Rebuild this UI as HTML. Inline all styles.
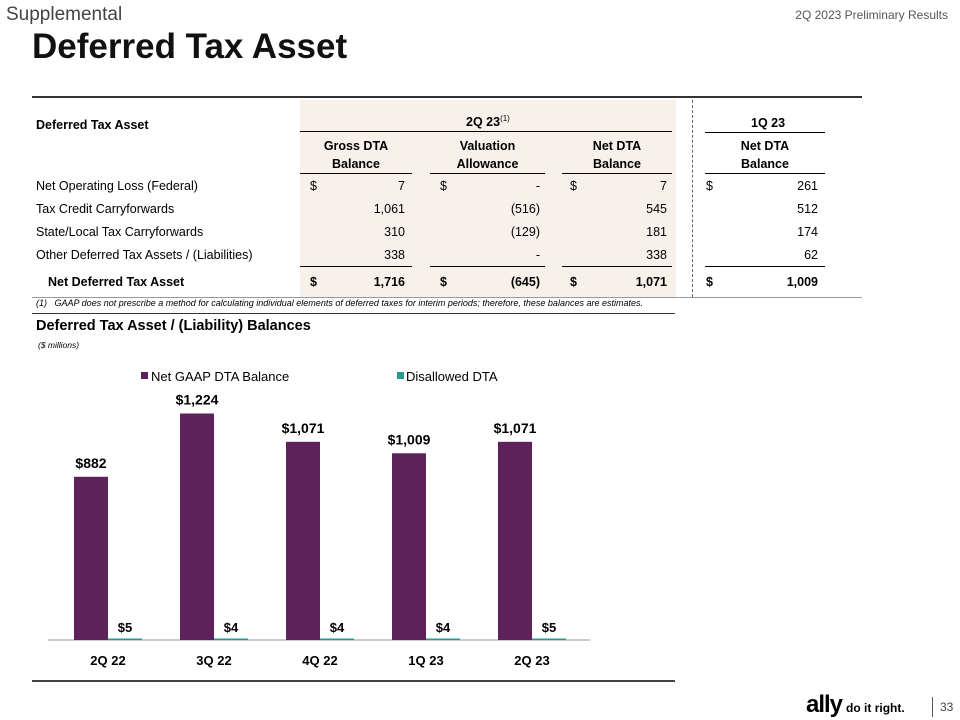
<!DOCTYPE html>
<html><head><meta charset="utf-8"><style>
body{margin:0;width:960px;height:720px;background:#fff;position:relative;overflow:hidden;font-family:"Liberation Sans",sans-serif;color:#000}
.a{position:absolute;white-space:nowrap}
.b{font-weight:bold}
.r{text-align:right}
.c{text-align:center}
.ln{position:absolute;height:1px;background:#000}
</style></head><body>
<div class="a" style="left:6px;top:4px;font-size:19px;color:#444">Supplemental</div>
<div class="a" style="right:12px;top:8px;font-size:12px;color:#555">2Q 2023 Preliminary Results</div>
<div class="a b" style="left:32px;top:27px;font-size:35px;color:#111">Deferred Tax Asset</div>
<div class="ln" style="left:32px;top:96px;width:830px;height:2px;background:#333"></div>
<div class="a" style="left:300px;top:100px;width:376px;height:197px;background:#f8f1ea"></div>
<div class="a" style="left:692px;top:100px;height:197px;border-left:1px dashed #666"></div>
<div id="tbl"></div>
<div class="ln" style="left:32px;top:297px;width:830px;background:#999"></div>
<div class="a" style="left:36px;top:298px;font-size:9px;font-style:italic">(1)&nbsp;&nbsp;&nbsp;GAAP does not prescribe a method for calculating individual elements of deferred taxes for interim periods; therefore, these balances are estimates.</div>
<div class="ln" style="left:32px;top:313px;width:643px;background:#333"></div>
<div class="a b" style="left:36px;top:318px;font-size:14.5px">Deferred Tax Asset / (Liability) Balances</div>
<div class="a" style="left:38px;top:340px;font-size:8.5px;font-style:italic">($ millions)</div>
<div class="ln" style="left:32px;top:680px;width:643px;height:2px;background:#444"></div>
<div class="a b" style="left:806px;top:691px;font-size:24px;letter-spacing:-1px">ally<span style="font-size:12px;letter-spacing:0;margin-left:4px">do it right.</span></div>
<div class="a" style="left:932px;top:697px;width:1px;height:20px;background:#555"></div>
<div class="a" style="left:940px;top:700px;font-size:12px;color:#444">33</div>
<svg id="chart" width="960" height="720" style="position:absolute;left:0;top:0" font-family="Liberation Sans, sans-serif"></svg>
<script>
const categories=["2Q 22","3Q 22","4Q 22","1Q 23","2Q 23"];
const netGaap=[882,1224,1071,1009,1071];
const disallowed=[5,4,4,4,5];
const rowLabels=["Net Operating Loss (Federal)","Tax Credit Carryforwards","State/Local Tax Carryforwards","Other Deferred Tax Assets / (Liabilities)"];
const gross=["7","1,061","310","338"];
const valuation=["-","(516)","(129)","-"];
const netDta=["7","545","181","338"];
const q1=["261","512","174","62"];
const totals=["1,716","(645)","1,071","1,009"];

const T=document.getElementById('tbl');
function txt(s,x,y,cls,st){const d=document.createElement('div');d.className='a '+(cls||'');d.style.cssText='left:'+x+'px;top:'+y+'px;font-size:12.5px;'+(st||'');d.innerHTML=s;T.appendChild(d);return d;}
function line(x,y,w,c){const d=document.createElement('div');d.className='ln';d.style.cssText='left:'+x+'px;top:'+y+'px;width:'+w+'px;'+(c?'background:'+c:'');T.appendChild(d);}
let e;
e=txt('Deferred Tax Asset',36,118,'b');


e=txt('2Q 23<sup style="font-size:8px;font-weight:normal">(1)</sup>',466,114,'b');


e=txt('1Q 23',751,116,'b');


line(300,131,372);line(705,132,120);
const cols=[[300,412],[430,545],[562,672],[705,825]];
const sub=['Gross DTA<br>Balance','Valuation<br>Allowance','Net DTA<br>Balance','Net DTA<br>Balance'];
cols.forEach((c,i)=>{e=txt(sub[i],c[0],137,'b c','width:'+(c[1]-c[0])+'px;line-height:18px');


line(c[0],173,c[1]-c[0]);line(c[0],266,c[1]-c[0]);});
const vals=[gross,valuation,netDta,q1];
const rights=[405,540,667,818];
const dollars=[310,440,570,706];
rowLabels.forEach((l,r)=>{const y=179+r*23;
e=txt(l,36,y);


vals.forEach((v,i)=>{
e=txt(v[r],rights[i]-80,y,'r','width:80px');


if(r==0){txt('$',dollars[i],y);}
});});
e=txt('Net Deferred Tax Asset',48,275,'b');


totals.forEach((v,i)=>{txt('$',dollars[i],275,'b');
e=txt(v,rights[i]-80,275,'b r','width:80px');

});

const S=document.getElementById('chart'),NS='http://www.w3.org/2000/svg';
const base=640,k=(640-413.5)/1224,x0=74,step=106,bw=34;
const y=v=>base-v*k, x=i=>x0+i*step;
function el(t,a){const n=document.createElementNS(NS,t);for(const q in a)n.setAttribute(q,a[q]);S.appendChild(n);return n;}
let n=el('line',{x1:48,x2:590,y1:base,y2:base,stroke:'#bbb','stroke-width':1.5});


categories.forEach((c,i)=>{
 n=el('rect',{x:x(i),y:y(netGaap[i]),width:bw,height:netGaap[i]*k,fill:'#5c2259'});
 
 
 n=el('rect',{x:x(i)+bw,y:base-1.5,width:bw,height:Math.max(1.5,disallowed[i]*k*0.4),fill:'#2a9a8c'});
 
 
 n=el('text',{x:x(i)+bw/2,y:y(netGaap[i])-9,'text-anchor':'middle','font-size':14,'font-weight':'bold'});
 n.textContent='$'+netGaap[i].toLocaleString('en-US');
 
 
 n=el('text',{x:x(i)+bw*1.5,y:base-8,'text-anchor':'middle','font-size':13,'font-weight':'bold'});
 n.textContent='$'+disallowed[i];
 
 
 n=el('text',{x:x(i)+bw,y:665,'text-anchor':'middle','font-size':13,'font-weight':'bold'});
 n.textContent=categories[i];
 
 
});
n=el('rect',{x:141,y:372,width:7,height:7,fill:'#5c2259'});


n=el('text',{x:151,y:381,'font-size':13});n.textContent='Net GAAP DTA Balance';


n=el('rect',{x:397,y:372,width:7,height:7,fill:'#2a9a8c'});


n=el('text',{x:406,y:381,'font-size':13});n.textContent='Disallowed DTA';


</script>
</body></html>
